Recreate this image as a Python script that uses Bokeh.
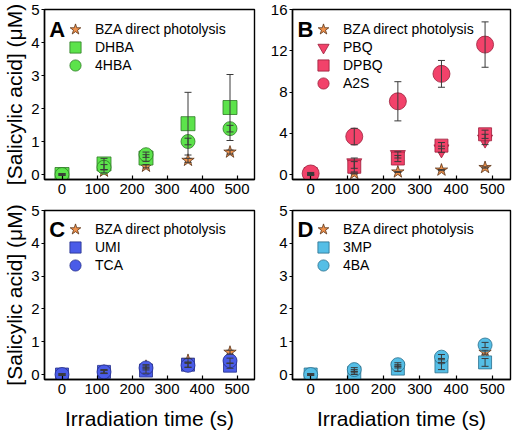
from bokeh.plotting import figure
from bokeh.layouts import gridplot
from bokeh.models import (ColumnDataSource, Whisker, TeeHead, FixedTicker, Range1d,
                          Label, Legend, LegendItem)
from bokeh.embed import file_html
from bokeh.resources import INLINE

FONT = "Liberation Sans"

# ---------------- data ----------------
time_s = [0, 120, 240, 360, 480]
x_ticks = [0, 100, 200, 300, 400, 500]

bza = [0.0, 0.10, 0.25, 0.43, 0.68]
bza_err = [0.02, 0.05, 0.05, 0.06, 0.06]

dhba = [0.0, 0.32, 0.50, 1.54, 2.03]
dhba_err = [0.02, 0.17, 0.10, 0.95, 1.00]
hba4 = [0.0, 0.22, 0.60, 1.00, 1.39]
hba4_err = [0.02, 0.08, 0.08, 0.10, 0.10]

pbq = [0.0, 1.10, 1.90, 2.45, 3.40]
pbq_err = [0.10, 0.50, 0.30, 0.30, 0.50]
dpbq = [0.05, 0.75, 1.55, 2.80, 3.90]
dpbq_err = [0.10, 0.50, 0.30, 0.30, 0.40]
a2s = [0.10, 3.68, 7.10, 9.76, 12.60]
a2s_err = [0.10, 0.80, 1.90, 1.30, 2.20]

umi = [0.0, 0.08, 0.12, 0.30, 0.27]
umi_err = [0.02, 0.05, 0.08, 0.08, 0.08]
tca = [0.0, 0.08, 0.20, 0.28, 0.42]
tca_err = [0.02, 0.05, 0.06, 0.06, 0.08]

mp3 = [0.0, 0.05, 0.18, 0.25, 0.37]
mp3_err = [0.02, 0.05, 0.08, 0.10, 0.12]
ba4 = [0.0, 0.15, 0.30, 0.53, 0.90]
ba4_err = [0.02, 0.06, 0.06, 0.08, 0.08]

yticks_5 = [0, 1, 2, 3, 4, 5]
yticks_16 = [0, 4, 8, 12, 16]

STAR = ("BZA direct photolysis", bza, bza_err, "star", 13, "#F0924C", "#5A3418")

panels = [
    ("A", 5, yticks_5, [STAR,
        ("DHBA", dhba, dhba_err, "square", 14, "#5CE34B", "#2E7A26"),
        ("4HBA", hba4, hba4_err, "circle", 14, "#5CE34B", "#2E7A26")]),
    ("B", 16, yticks_16, [STAR,
        ("PBQ", pbq, pbq_err, "inverted_triangle", 15, "#F2426A", "#9A1E3A"),
        ("DPBQ", dpbq, dpbq_err, "square", 13, "#F2426A", "#9A1E3A"),
        ("A2S", a2s, a2s_err, "circle", 17, "#F2426A", "#9A1E3A")]),
    ("C", 5, yticks_5, [STAR,
        ("UMI", umi, umi_err, "square", 13, "#4A5CE8", "#26308A"),
        ("TCA", tca, tca_err, "circle", 14, "#4A5CE8", "#26308A")]),
    ("D", 5, yticks_5, [STAR,
        ("3MP", mp3, mp3_err, "square", 13, "#55BEE6", "#2A6E8C"),
        ("4BA", ba4, ba4_err, "circle", 14, "#55BEE6", "#2A6E8C")]),
]

FRAME_W, FRAME_H = 218, 170
X0, X1 = -50, 550
B_TOP = 9
B_BOT_TOP_ROW = 22
B_BOT_BOTTOM_ROW = 52
ROW_STEP = 18
GLYPH_BOX = 28


def make_panel(idx, letter, ymax, yticks, series):
    is_left = idx % 2 == 0
    is_bottom = idx >= 2
    pad = ymax * 5.0 / 165.0
    bb = B_BOT_BOTTOM_ROW if is_bottom else B_BOT_TOP_ROW
    p = figure(width=256, height=B_TOP + FRAME_H + bb,
               output_backend="svg", toolbar_location=None,
               x_range=Range1d(X0, X1), y_range=Range1d(-pad, ymax),
               min_border_left=36, min_border_right=2,
               min_border_top=B_TOP, min_border_bottom=bb)
    p.grid.visible = False
    p.outline_line_color = "black"
    p.outline_line_width = 1.4
    p.background_fill_color = "white"
    p.border_fill_color = "white"

    for ax in (p.xaxis[0], p.yaxis[0]):
        ax.axis_line_color = "black"
        ax.axis_line_width = 1.4
        ax.major_tick_line_color = "black"
        ax.major_tick_line_width = 1.2
        ax.minor_tick_line_color = None
        ax.major_label_text_font = FONT
        ax.major_label_text_font_size = "15px"
        ax.major_label_text_color = "black"
        ax.axis_label_text_font = FONT
        ax.axis_label_text_font_size = "21px"
        ax.axis_label_text_font_style = "normal"
        ax.axis_label_text_color = "black"
    p.xaxis.ticker = FixedTicker(ticks=x_ticks)
    p.yaxis.ticker = FixedTicker(ticks=yticks)
    p.xaxis.major_tick_in = 4
    p.xaxis.major_tick_out = 0
    p.xaxis.major_label_standoff = 4
    p.yaxis.major_tick_in = 0
    p.yaxis.major_tick_out = 3
    p.yaxis.major_label_standoff = 2
    if is_bottom:
        p.xaxis.axis_label = "Irradiation time (s)"
        p.xaxis.axis_label_standoff = 10
    if is_left:
        p.yaxis.axis_label = "[Salicylic acid] (\u03bcM)"
        p.yaxis.axis_label_standoff = 2

    for i, (name, vals, errs, marker, size, fill, line) in enumerate(series):
        src = ColumnDataSource(dict(
            x=time_s, y=vals,
            upper=[v + e for v, e in zip(vals, errs)],
            lower=[v - e for v, e in zip(vals, errs)]))
        r = p.scatter("x", "y", source=src, marker=marker, size=size,
                      fill_color=fill, line_color=line, line_width=0.8)
        w = Whisker(source=src, base="x", upper="upper", lower="lower",
                    line_color="#3a3a3a", line_width=1, level="annotation",
                    upper_head=TeeHead(size=7, line_color="#3a3a3a", line_width=1),
                    lower_head=TeeHead(size=7, line_color="#3a3a3a", line_width=1))
        p.add_layout(w)

        centre_from_top = 20 + ROW_STEP * i
        lg = Legend(items=[LegendItem(label=name, renderers=[r])],
                    location=(17, FRAME_H - centre_from_top - GLYPH_BOX // 2),
                    glyph_width=GLYPH_BOX, glyph_height=GLYPH_BOX,
                    label_height=GLYPH_BOX, spacing=0, padding=0, margin=0,
                    label_standoff=6, label_text_font=FONT,
                    label_text_font_size="14px", label_text_color="black",
                    background_fill_alpha=0, border_line_alpha=0)
        p.add_layout(lg)

    sx = (X1 - X0) / FRAME_W
    sy = (ymax + pad) / FRAME_H
    p.add_layout(Label(x=X0 + 5 * sx, y=ymax - 7 * sy, text=letter,
                       text_font=FONT, text_font_size="22px",
                       text_font_style="bold", text_baseline="top",
                       text_color="black"))
    return p


figs = [make_panel(i, *pn) for i, pn in enumerate(panels)]
grid = gridplot([[figs[0], figs[1]], [figs[2], figs[3]]], toolbar_location=None)

open("out.html", "w").write(file_html(grid, INLINE))
